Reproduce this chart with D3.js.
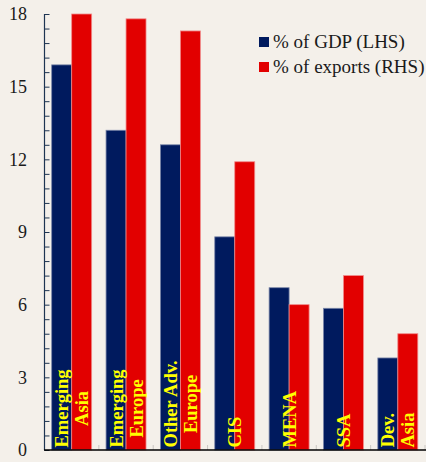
<!DOCTYPE html>
<html>
<head>
<meta charset="utf-8">
<script src="https://cdn.jsdelivr.net/npm/d3@7"></script>
<style>
  html, body { margin: 0; padding: 0; background: #F4F0EA; }
  svg { display: block; }
</style>
</head>
<body>
<svg id="chart" width="426" height="462"></svg>
<script>
// Regions, each label split into the lines written inside the bars
const regions = ["Emerging Asia", "Emerging Europe", "Other Adv. Europe", "CIS", "MENA", "SSA", "Dev. Asia"];
const regionLines = [["Emerging", "Asia"], ["Emerging", "Europe"], ["Other Adv.", "Europe"], ["CIS"], ["MENA"], ["SSA"], ["Dev.", "Asia"]];
// Series values
const gdpShare = [15.9, 13.2, 12.6, 8.8, 6.7, 5.85, 3.8];     // % of GDP (LHS)
const exportShare = [18.0, 17.8, 17.3, 11.9, 6.0, 7.2, 4.8];  // % of exports (RHS)
const seriesNames = ["% of GDP (LHS)", "% of exports (RHS)"];
const yTickLabels = [0, 3, 6, 9, 12, 15, 18];

const colors = ["#001A5E", "#E20000"];
const strokes = ["#7A86A8", "#F08A8A"];

const svg = d3.select("#chart");
const W = 426;
const plotLeft = 44.5, plotRight = 425, plotTop = 14, plotBottom = 450;

const x = d3.scaleBand().domain(regions).range([plotLeft, plotRight]).padding(0);
const inner = d3.scaleBand().domain([0, 1]).range([0, x.bandwidth()]).paddingInner(0).paddingOuter(0.36);
const y = d3.scaleLinear().domain([0, 18]).range([plotBottom, plotTop]);

// Bars
const data = regions.map((r, i) => ({ region: r, values: [gdpShare[i], exportShare[i]] }));
const groups = svg.append("g").selectAll("g").data(data).join("g")
  .attr("transform", d => `translate(${x(d.region)},0)`);
groups.selectAll("rect").data(d => d.values.map((v, k) => ({ v, k }))).join("rect")
  .attr("x", d => inner(d.k))
  .attr("y", d => y(d.v))
  .attr("width", inner.bandwidth())
  .attr("height", d => y(0) - y(d.v))
  .attr("fill", d => colors[d.k])
  .attr("stroke", d => strokes[d.k])
  .attr("stroke-width", 0.8);

// Category boundary ticks along the base
svg.append("g").selectAll("line").data(regions).join("line")
  .attr("x1", d => x(d) + x.bandwidth()).attr("x2", d => x(d) + x.bandwidth())
  .attr("y1", plotBottom - 5).attr("y2", plotBottom)
  .attr("stroke", "#C9C6C2").attr("stroke-width", 1);

// Left axis: ticks every 0.6, labels every 3
const minorTicks = d3.range(0, 31).map(i => +(i * 0.6).toFixed(2));
const yAxis = d3.axisRight(y).tickValues(minorTicks).tickSize(5).tickFormat("");
const ax = svg.append("g").attr("transform", `translate(${plotLeft},0)`).call(yAxis);
ax.select(".domain").attr("stroke", "#1E3552").attr("stroke-width", 1.2).attr("d", `M0,${plotTop}V${plotBottom}`);
ax.selectAll(".tick line").attr("stroke", "#1E3552").attr("stroke-width", 1);

svg.append("g").selectAll("text").data(yTickLabels).join("text")
  .attr("x", 27).attr("y", d => y(d)).attr("dy", "0.35em")
  .attr("text-anchor", "end")
  .attr("font-family", "Liberation Serif, Times New Roman, serif")
  .attr("font-size", 18).attr("fill", "#1A1A1A")
  .text(d => d);

// Baseline
svg.append("line").attr("x1", plotLeft - 0.5).attr("x2", W).attr("y1", plotBottom).attr("y2", plotBottom)
  .attr("stroke", "#000").attr("stroke-width", 1.6);

// Vertical labels inside the bars
const labelFont = 18.5;
regionLines.forEach((lines, i) => {
  const g = svg.append("g");
  const texts = lines.map((ln, j) => {
    const cx = lines.length === 1
      ? x(regions[i]) + x.bandwidth() / 2
      : x(regions[i]) + inner(j) + inner.bandwidth() / 2;
    return g.append("text")
      .attr("text-anchor", "middle")
      .attr("dy", "0.35em")
      .attr("font-family", "Liberation Serif, Times New Roman, serif")
      .attr("font-weight", "bold")
      .attr("font-size", labelFont)
      .attr("fill", "#FFFF00")
      .datum(cx)
      .text(ln);
  });
  const maxLen = d3.max(texts, t => t.node().getComputedTextLength());
  const cy = plotBottom - 2.5 - maxLen / 2;
  texts.forEach(t => t.attr("transform", `translate(${t.datum()},${cy}) rotate(-90)`));
});

// Legend
const legend = svg.append("g").attr("transform", "translate(259,37)");
seriesNames.forEach((name, k) => {
  legend.append("rect").attr("x", 0).attr("y", k * 25).attr("width", 10).attr("height", 10)
    .attr("fill", colors[k]);
  legend.append("text").attr("x", 14).attr("y", k * 25 + 11)
    .attr("font-family", "Liberation Serif, Times New Roman, serif")
    .attr("font-size", 19).attr("fill", "#1A1A1A")
    .text(name);
});
</script>
</body>
</html>
